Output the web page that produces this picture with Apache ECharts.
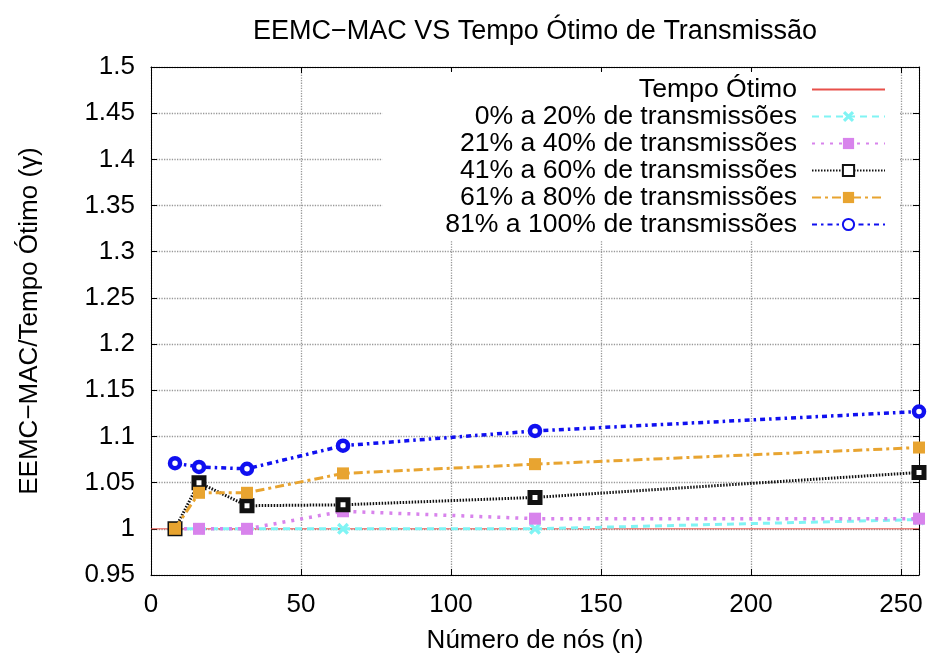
<!DOCTYPE html>
<html>
<head>
<meta charset="utf-8">
<script src="https://cdn.jsdelivr.net/npm/echarts@6/dist/echarts.min.js"></script>
<style>
  html, body { margin: 0; padding: 0; background: #fff; }
  #chart { width: 928px; height: 655px; }
</style>
</head>
<body>
<div id="chart"></div>
<script>
// Network sizes (number of nodes)
const nodes = [8, 16, 32, 64, 128, 256];

// Series names
const seriesNames = [
  'Tempo Ótimo',
  '0% a 20% de transmissões',
  '21% a 40% de transmissões',
  '41% a 60% de transmissões',
  '61% a 80% de transmissões',
  '81% a 100% de transmissões'
];

// Ratio EEMC-MAC / optimal time for each transmission band
const optimo = [1, 1];
const optimoX = [0, 256];
const tx0to20 = [1.0, 1.0, 1.0, 1.0, 1.0, 1.01];
const tx21to40 = [1.0, 1.0, 1.0, 1.019, 1.011, 1.011];
const tx41to60 = [1.0, 1.05, 1.025, 1.026, 1.034, 1.061];
const tx61to80 = [1.0, 1.039, 1.039, 1.06, 1.07, 1.088];
const tx81to100 = [1.071, 1.067, 1.065, 1.09, 1.106, 1.127];

// Axis ticks
const xTicks = { min: 0, max: 256, interval: 50 };
const yTicks = { min: 0.95, max: 1.5, interval: 0.05 };

const FONT = '"Liberation Sans", Arial, Helvetica, sans-serif';
const FS = 26;

function pairs(xs, ys) { return xs.map((x, i) => [x, ys[i]]); }

const crossPath = 'path://M2,0 L5,3 L8,0 L10,2 L7,5 L10,8 L8,10 L5,7 L2,10 L0,8 L3,5 L0,2 Z';

const chart = echarts.init(document.getElementById('chart'), null, { renderer: 'canvas' });

const axisCommon = {
  type: 'value',
  axisLine: { show: true, onZero: false, lineStyle: { color: '#000', width: 1 } },
  axisTick: { show: true, inside: true, length: 6, lineStyle: { color: '#000' } }
};

function gridLine() {
  return { show: true, showMinLine: true, showMaxLine: true,
           lineStyle: { color: '#999', width: 1.3, type: 'dotted' } };
}

const option = {
  animation: false,
  backgroundColor: '#fff',
  title: {
    text: 'EEMC−MAC VS Tempo Ótimo de Transmissão',
    left: 248, top: 13,
    textStyle: { fontFamily: FONT, fontSize: 27, fontWeight: 'normal', color: '#000' }
  },
  grid: { left: 151, right: 9, top: 67, bottom: 80, containLabel: false, outerBoundsMode: 'none' },
  legend: {
    orient: 'vertical',
    align: 'right',
    right: 28, top: 72,
    padding: [4, 14, 2, 63],
    backgroundColor: '#fff',
    itemWidth: 73, itemHeight: 14, itemGap: 0,
    textStyle: { fontFamily: FONT, fontSize: 26.6, color: '#000', lineHeight: 26.6, padding: [0, 10, 0, 0] },
    data: [
      { name: seriesNames[0], itemStyle: { color: 'rgba(0,0,0,0)', borderWidth: 0 } },
      seriesNames[1], seriesNames[2], seriesNames[3], seriesNames[4], seriesNames[5]
    ]
  },
  xAxis: [
    Object.assign({}, axisCommon, {
      min: xTicks.min, max: xTicks.max, interval: xTicks.interval,
      name: 'Número de nós (n)', nameLocation: 'middle', nameGap: 53,
      nameTextStyle: { fontFamily: FONT, fontSize: FS, color: '#000' },
      axisLabel: { fontFamily: FONT, fontSize: FS, color: '#000', margin: 17, showMaxLabel: false },
      splitLine: gridLine()
    }),
    Object.assign({}, axisCommon, {
      position: 'top',
      min: xTicks.min, max: xTicks.max, interval: xTicks.interval,
      axisLabel: { show: false }, splitLine: { show: false }
    })
  ],
  yAxis: [
    Object.assign({}, axisCommon, {
      min: yTicks.min, max: yTicks.max, interval: yTicks.interval,
      name: 'EEMC−MAC/Tempo Ótimo (γ)', nameLocation: 'middle', nameGap: 108,
      nameTextStyle: { fontFamily: FONT, fontSize: FS, color: '#000' },
      axisLabel: { fontFamily: FONT, fontSize: FS, color: '#000', margin: 16 },
      splitLine: gridLine()
    }),
    Object.assign({}, axisCommon, {
      position: 'right',
      min: yTicks.min, max: yTicks.max, interval: yTicks.interval,
      axisLabel: { show: false }, splitLine: { show: false }
    })
  ],
  series: [
    {
      name: seriesNames[0], type: 'line', data: pairs(optimoX, optimo),
      symbol: 'none', z: 2,
      lineStyle: { color: '#e8504a', width: 1 }, itemStyle: { color: '#e8504a' }
    },
    {
      name: seriesNames[1], type: 'line', data: pairs(nodes, tx0to20),
      symbol: crossPath, symbolSize: 12, z: 3,
      lineStyle: { color: '#80f4f4', width: 3, type: [7, 5] },
      itemStyle: { color: '#80f4f4' }
    },
    {
      name: seriesNames[2], type: 'line', data: pairs(nodes, tx21to40),
      symbol: 'rect', symbolSize: 12, z: 4,
      lineStyle: { color: '#d883ec', width: 3.5, type: [3, 6] },
      itemStyle: { color: '#d883ec' }
    },
    {
      name: seriesNames[3], type: 'line', data: pairs(nodes, tx41to60),
      symbol: 'rect', symbolSize: 10, z: 5,
      lineStyle: { color: '#111', width: 3, type: [1.5, 1.5] },
      itemStyle: { color: '#fff', borderColor: '#111', borderWidth: 5 }
    },
    {
      name: seriesNames[4], type: 'line', data: pairs(nodes, tx61to80),
      symbol: 'rect', symbolSize: 12, z: 6,
      lineStyle: { color: '#e8a430', width: 3, type: [9, 4, 3, 4] },
      itemStyle: { color: '#e8a430' }
    },
    {
      name: seriesNames[5], type: 'line', data: pairs(nodes, tx81to100),
      symbol: 'circle', symbolSize: 10, z: 7,
      lineStyle: { color: '#1010f0', width: 3.5, type: [5, 4, 2.5, 4] },
      itemStyle: { color: '#fff', borderColor: '#1010f0', borderWidth: 4.5 }
    }
  ]
};

chart.setOption(option);
</script>
</body>
</html>
